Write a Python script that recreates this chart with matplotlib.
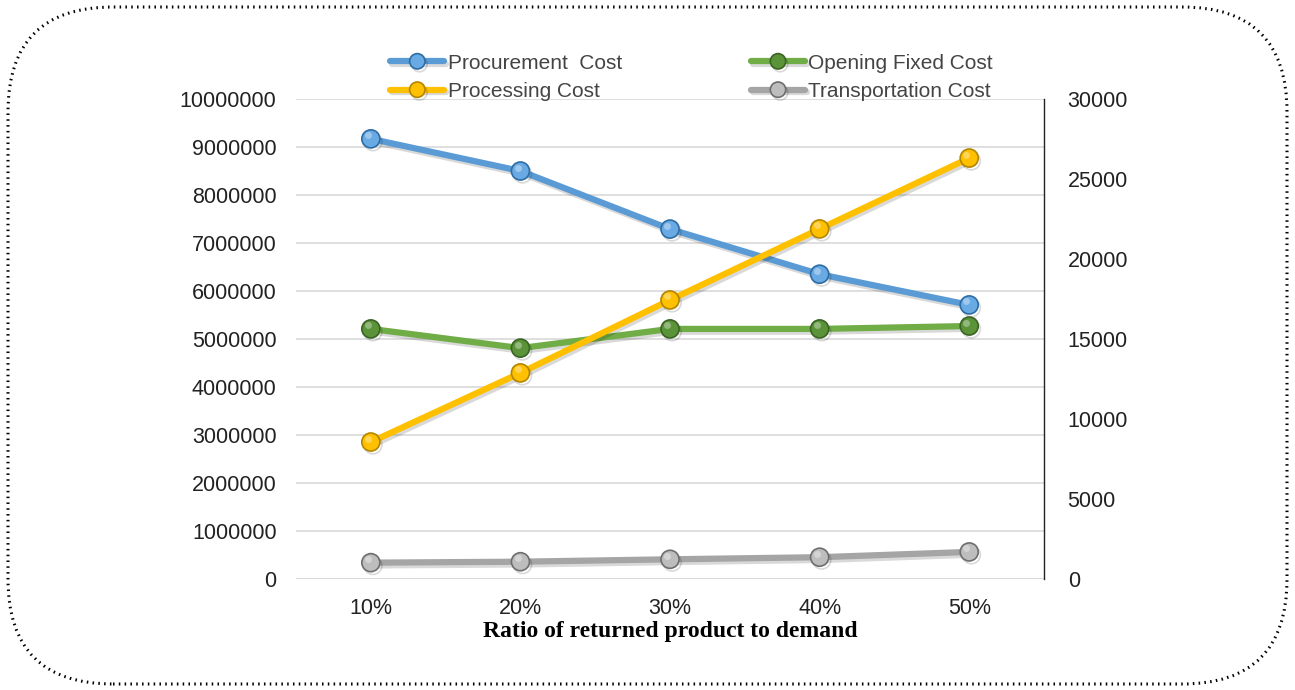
import matplotlib.pyplot as plt
import matplotlib.patheffects as pe
import matplotlib.transforms as mtransforms
from matplotlib.patches import FancyBboxPatch
import numpy as np

# data
ratios = ["10%", "20%", "30%", "40%", "50%"]
procurement = [9170000, 8500000, 7290000, 6350000, 5710000]
opening_fixed = [5210000, 4810000, 5210000, 5210000, 5270000]
processing = [8560, 12880, 17440, 21880, 26310]        # right axis
transportation = [1020, 1080, 1230, 1360, 1690]        # right axis

plt.rcParams["font.family"] = ["Liberation Sans", "DejaVu Sans"]

fig = plt.figure(figsize=(12.95, 6.9), dpi=100)
ax = fig.add_axes([0.2286, 0.1609, 0.5776, 0.6956])
ax2 = ax.twinx()

x = np.arange(len(ratios))
shadow = [pe.SimpleLineShadow(offset=(1.5, -2), alpha=0.15), pe.Normal()]
hl_shift = mtransforms.ScaledTranslation(-2 / 72, 2.5 / 72, fig.dpi_scale_trans)


def draw(a, vals, color, mfc, mec, label):
    line, = a.plot(x, vals, color=color, lw=4.5, marker="o", ms=13,
                   mfc=mfc, mec=mec, mew=1.2, label=label,
                   path_effects=shadow, zorder=3, solid_capstyle="round")
    # small highlight to mimic the glossy sphere markers
    a.plot(x, vals, ls="none", marker="o", ms=5, mfc="white", mec="none",
           alpha=0.35, zorder=4, transform=a.transData + hl_shift)
    return line


l1 = draw(ax, procurement, "#5B9BD5", "#6AAAE4", "#2E6DA4", "Procurement  Cost")
l2 = draw(ax, opening_fixed, "#70AD47", "#5A9338", "#3B6425", "Opening Fixed Cost")
l3 = draw(ax2, processing, "#FFC000", "#FFC000", "#B38600", "Processing Cost")
l4 = draw(ax2, transportation, "#A5A5A5", "#BDBDBD", "#6E6E6E", "Transportation Cost")

ax.set_xlim(-0.5, 4.5)
ax.set_ylim(0, 10000000)
ax.set_yticks(np.arange(0, 10000001, 1000000))
ax.set_yticklabels([str(v) for v in range(0, 10000001, 1000000)])
ax2.set_ylim(0, 30000)
ax2.set_yticks(np.arange(0, 30001, 5000))
ax2.set_yticklabels([str(v) for v in range(0, 30001, 5000)])

ax.set_xticks(x)
ax.set_xticklabels(ratios)
ax.grid(axis="y", color="#D9D9D9", lw=1.2)
ax.set_axisbelow(True)

for a in (ax, ax2):
    for s in ("top", "left", "bottom", "right"):
        a.spines[s].set_visible(False)
ax2.spines["right"].set_visible(True)
ax2.spines["right"].set_color("#222222")
ax2.spines["right"].set_linewidth(1.0)
ax.axhline(0, color="#D9D9D9", lw=1.2, zorder=0)

ax.tick_params(axis="y", length=0, pad=14, labelsize=15.5, labelcolor="#222222")
ax.tick_params(axis="x", length=0, pad=14, labelsize=15.5, labelcolor="#222222")
ax2.tick_params(axis="y", length=0, pad=17, labelsize=15.5, labelcolor="#222222")

ax.set_xlabel("Ratio of returned product to demand", family="Liberation Serif",
              fontweight="bold", fontsize=17, labelpad=1)

leg = fig.legend([l1, l3, l2, l4],
                 ["Procurement  Cost", "Processing Cost", "Opening Fixed Cost", "Transportation Cost"],
                 ncol=2, loc="center", bbox_to_anchor=(0.534, 0.888), frameon=False,
                 fontsize=15, labelcolor="#444444", handlelength=2.6, handletextpad=0.15,
                 columnspacing=6.2, labelspacing=0.45, borderpad=0, markerscale=0.85)

# dotted rounded frame around the whole chart
frame = FancyBboxPatch((0.08, 0.06), 12.79, 6.77,
                       boxstyle="round,pad=0,rounding_size=1.05",
                       transform=fig.dpi_scale_trans, fill=False,
                       ec="black", lw=2.2, ls=(0, (0.5, 1.4)))
fig.patches.append(frame)

fig.savefig("out.png", dpi=100)
